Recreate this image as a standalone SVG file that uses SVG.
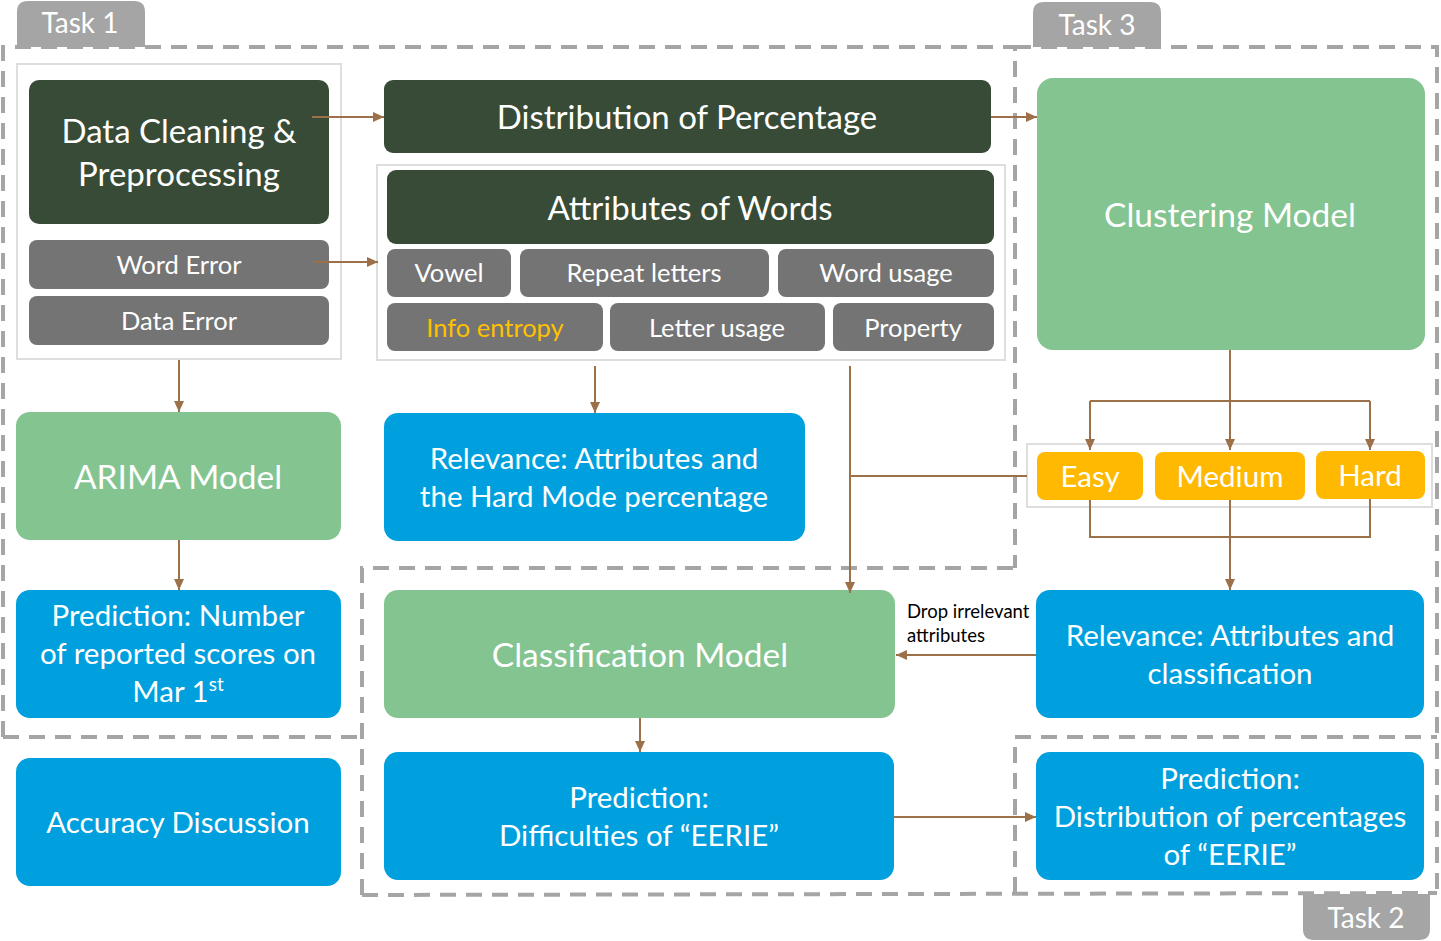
<svg xmlns="http://www.w3.org/2000/svg" width="1441" height="941" viewBox="0 0 1441 941">
<style>
text{font-family:Lato,"Open Sans","Liberation Sans",sans-serif;fill:#fff;text-anchor:middle}
.dk{fill:#374b37}
.lg{fill:#83c491}
.bl{fill:#009fdd}
.gr{fill:#747474}
.or{fill:#ffb900}
.ct{fill:#fff;stroke:#dedede;stroke-width:2}
.dash{fill:none;stroke:#a5a5a5;stroke-width:4;stroke-dasharray:16,10}
.tab{fill:#a5a5a5}
.tt{font-size:28px}
.t30{font-size:33px}
.t32{font-size:33.5px}
.t28{font-size:29.5px}
.t24{font-size:25.5px}
.cn{fill:none;stroke:#9c7048;stroke-width:2}
</style>
<defs>
<marker id="ah" markerUnits="userSpaceOnUse" markerWidth="12" markerHeight="11" refX="11" refY="5" orient="auto">
<path d="M0,0 L11,5 L0,10 z" fill="#9c7048"/>
</marker>
</defs>
<g id="regions">
<path class="dash" d="M3,737 V47 H1015 V568"/>
<path class="dash" d="M3,737 H360"/>
<path class="dash" d="M1015,47 H1437 V893"/>
<path class="dash" d="M362,895 V568 H1015"/>
<path class="dash" d="M1015,893 V737 H1437"/>
<path class="dash" d="M362,895 L1437,893"/>
</g>
<g id="tab1"><path class="tab" d="M17,47 V12 Q17,1 28,1 H134 Q145,1 145,12 V47 z"/><text class="tt" x="80" y="33">Task 1</text></g>
<g id="tab3"><path class="tab" d="M1033,47 V13 Q1033,2 1044,2 H1150 Q1161,2 1161,13 V47 z"/><text class="tt" x="1097" y="35">Task 3</text></g>
<g id="tab2"><path class="tab" d="M1303,894 H1430 V929 Q1430,940 1419,940 H1314 Q1303,940 1303,929 z"/><text class="tt" x="1366" y="928">Task 2</text></g>

<g id="container1"><rect class="ct" x="17" y="64" width="324" height="295"/></g>
<g id="container2"><rect class="ct" x="377" y="165" width="628" height="195"/></g>
<g id="container3"><rect class="ct" x="1027" y="444" width="405" height="63"/></g>

<g id="dataCleaning"><rect class="dk" x="29" y="80" width="300" height="144" rx="10"/><text class="t30" x="179" y="143">Data Cleaning &amp;</text><text class="t30" x="179" y="186">Preprocessing</text></g>
<g id="wordError"><rect class="gr" x="29" y="240" width="300" height="49" rx="8"/><text class="t24" x="179" y="274">Word Error</text></g>
<g id="dataError"><rect class="gr" x="29" y="296" width="300" height="49" rx="8"/><text class="t24" x="179" y="330">Data Error</text></g>
<g id="distPercentage"><rect class="dk" x="384" y="80" width="607" height="73" rx="9"/><text class="t30" x="687" y="129">Distribution of Percentage</text></g>
<g id="attributes"><rect class="dk" x="387" y="170" width="607" height="74" rx="9"/><text class="t30" x="690" y="220">Attributes of Words</text></g>
<g id="vowel"><rect class="gr" x="387" y="249" width="124" height="48" rx="8"/><text class="t24" x="449" y="282">Vowel</text></g>
<g id="repeat"><rect class="gr" x="520" y="249" width="249" height="48" rx="8"/><text class="t24" x="644" y="282">Repeat letters</text></g>
<g id="wordUsage"><rect class="gr" x="778" y="249" width="216" height="48" rx="8"/><text class="t24" x="886" y="282">Word usage</text></g>
<g id="infoEntropy"><rect class="gr" x="387" y="303" width="216" height="48" rx="8"/><text class="t24" x="495" y="337" style="fill:#ffc000">Info entropy</text></g>
<g id="letterUsage"><rect class="gr" x="610" y="303" width="215" height="48" rx="8"/><text class="t24" x="717" y="337">Letter usage</text></g>
<g id="property"><rect class="gr" x="833" y="303" width="161" height="48" rx="8"/><text class="t24" x="913" y="337">Property</text></g>

<g id="clustering"><rect class="lg" x="1037" y="78" width="388" height="272" rx="16"/><text class="t32" x="1230" y="227">Clustering Model</text></g>
<g id="arima"><rect class="lg" x="16" y="412" width="325" height="128" rx="14"/><text class="t32" x="178" y="489">ARIMA Model</text></g>
<g id="relevanceHard"><rect class="bl" x="384" y="413" width="421" height="128" rx="14"/><text class="t28" x="594" y="469">Relevance: Attributes and</text><text class="t28" x="594" y="507">the Hard Mode percentage</text></g>
<g id="predNumber"><rect class="bl" x="16" y="590" width="325" height="128" rx="14"/><text class="t28" x="178" y="626">Prediction: Number</text><text class="t28" x="178" y="664">of reported scores on</text><text class="t28" x="178" y="702">Mar 1<tspan font-size="19" dy="-11">st</tspan></text></g>
<g id="accuracy"><rect class="bl" x="16" y="758" width="325" height="128" rx="14"/><text class="t28" x="178" y="833">Accuracy Discussion</text></g>
<g id="easy"><rect class="or" x="1037" y="452" width="106" height="48" rx="8"/><text class="t28" x="1090" y="487">Easy</text></g>
<g id="medium"><rect class="or" x="1155" y="452" width="150" height="48" rx="8"/><text class="t28" x="1230" y="487">Medium</text></g>
<g id="hard"><rect class="or" x="1316" y="451" width="109" height="48" rx="8"/><text class="t28" x="1370" y="486">Hard</text></g>
<g id="classification"><rect class="lg" x="384" y="590" width="511" height="128" rx="14"/><text class="t32" x="640" y="667">Classification Model</text></g>
<g id="relevanceClass"><rect class="bl" x="1036" y="590" width="388" height="128" rx="14"/><text class="t28" x="1230" y="646">Relevance: Attributes and</text><text class="t28" x="1230" y="684">classification</text></g>
<g id="predDifficulty"><rect class="bl" x="384" y="752" width="510" height="128" rx="14"/><text class="t28" x="639" y="808">Prediction:</text><text class="t28" x="639" y="846">Difficulties of “EERIE”</text></g>
<g id="predDist"><rect class="bl" x="1036" y="752" width="388" height="128" rx="14"/><text class="t28" x="1230" y="789">Prediction:</text><text class="t28" x="1230" y="827">Distribution of percentages</text><text class="t28" x="1230" y="865">of “EERIE”</text></g>
<g id="dropLabel"><text x="907" y="618" style="fill:#000;font-size:18.5px;text-anchor:start">Drop irrelevant</text><text x="907" y="642" style="fill:#000;font-size:18.5px;text-anchor:start">attributes</text></g>

<g id="connectors">
<path class="cn" d="M312,117 H384" marker-end="url(#ah)"/>
<path class="cn" d="M991,117 H1037" marker-end="url(#ah)"/>
<path class="cn" d="M313,262 H378" marker-end="url(#ah)"/>
<path class="cn" d="M179,360 V412" marker-end="url(#ah)"/>
<path class="cn" d="M595,366 V413" marker-end="url(#ah)"/>
<path class="cn" d="M179,540 V590" marker-end="url(#ah)"/>
<path class="cn" d="M850,366 V593" marker-end="url(#ah)"/>
<path class="cn" d="M1027,476 H850"/>
<path class="cn" d="M1230,350 V450" marker-end="url(#ah)"/>
<path class="cn" d="M1090,401 H1370"/>
<path class="cn" d="M1090,401 V450" marker-end="url(#ah)"/>
<path class="cn" d="M1370,401 V450" marker-end="url(#ah)"/>
<path class="cn" d="M1090,500 V537 H1370 V499"/>
<path class="cn" d="M1230,500 V590" marker-end="url(#ah)"/>
<path class="cn" d="M1036,655 H896" marker-end="url(#ah)"/>
<path class="cn" d="M640,718 V752" marker-end="url(#ah)"/>
<path class="cn" d="M894,817 H1036" marker-end="url(#ah)"/>
</g>
</svg>
